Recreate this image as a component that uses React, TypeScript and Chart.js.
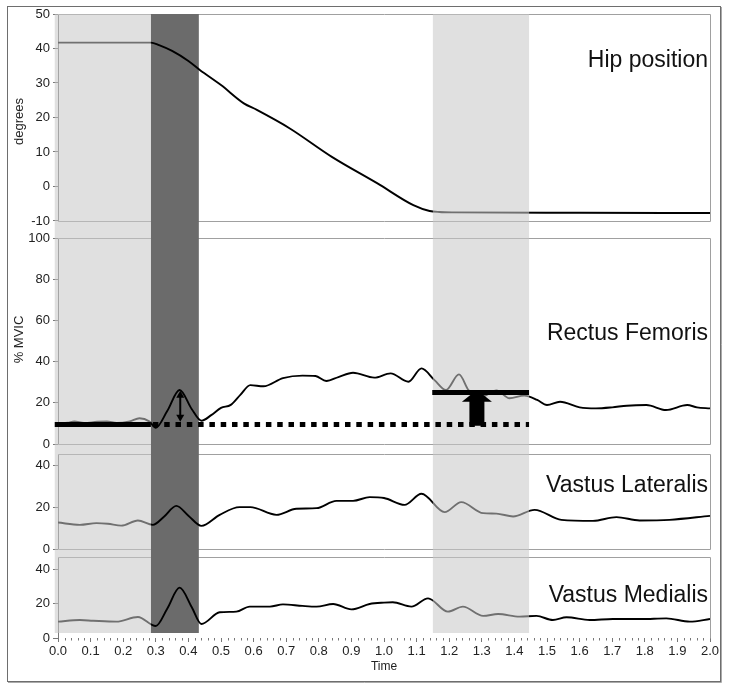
import React, { useEffect, useRef } from 'react';
import { Chart, registerables } from 'chart.js';

Chart.register(...registerables);

// ---------- tick labels ----------
const xTickLabels = ['0.0','0.1','0.2','0.3','0.4','0.5','0.6','0.7','0.8','0.9','1.0','1.1','1.2','1.3','1.4','1.5','1.6','1.7','1.8','1.9','2.0'];
const hipTicks = [-10, 0, 10, 20, 30, 40, 50];
const rfTicks = [0, 20, 40, 60, 80, 100];
const vlTicks = [0, 20, 40];
const vmTicks = [0, 20, 40];

// ---------- series ----------
const hipTime = [0, 0.285, 0.31, 0.35, 0.40, 0.435, 0.50, 0.57, 0.61, 0.71, 0.84, 0.98, 1.09, 1.14, 1.17, 1.21, 1.6, 2.0];
const hipDeg = [41.7, 41.7, 41.0, 39.3, 36.4, 33.8, 29.4, 24.1, 22.2, 16.9, 8.6, 0.9, -5.4, -7.1, -7.4, -7.5, -7.6, -7.7];

const rfTime = [0, 0.03, 0.05, 0.08, 0.12, 0.15, 0.18, 0.22, 0.25, 0.28, 0.30, 0.335, 0.373, 0.41, 0.44, 0.47, 0.50, 0.53, 0.56, 0.59, 0.63, 0.69, 0.75, 0.79, 0.823, 0.86, 0.905, 0.97, 1.02, 1.075, 1.115, 1.155, 1.19, 1.23, 1.26, 1.30, 1.345, 1.385, 1.43, 1.47, 1.50, 1.54, 1.60, 1.65, 1.70, 1.745, 1.805, 1.865, 1.93, 1.96, 2.0];
const rfVal = [10, 10.3, 11, 10.2, 10.8, 11, 10.2, 11, 12.5, 11, 7.9, 16, 26.2, 17, 11.3, 14, 17.5, 19, 24, 28.6, 28, 32, 33.2, 33, 30.6, 32.5, 34.6, 32.2, 34.3, 30.2, 36.7, 31, 26.2, 33.8, 26, 23, 26, 22.2, 23.5, 21.4, 18.9, 20.5, 17.8, 17.3, 17.8, 18.6, 18.9, 16.5, 18.9, 17.8, 17.3];

const vlTime = [0, 0.067, 0.118, 0.153, 0.194, 0.245, 0.291, 0.325, 0.363, 0.40, 0.44, 0.496, 0.557, 0.59, 0.67, 0.731, 0.793, 0.854, 0.905, 0.956, 1.0, 1.063, 1.115, 1.186, 1.237, 1.304, 1.345, 1.396, 1.462, 1.544, 1.641, 1.713, 1.784, 1.876, 2.0];
const vlVal = [12.7, 11.6, 12.4, 12.1, 11.2, 13.7, 11.6, 15.5, 20.7, 16, 11.1, 16.4, 20.1, 20.1, 16.4, 19.3, 19.6, 23.1, 23.1, 24.9, 24.5, 21.2, 26.5, 17.7, 22.5, 17.2, 17.0, 15.6, 18.8, 14.0, 13.5, 15.3, 13.7, 14.0, 15.9];

const vmTime = [0, 0.067, 0.108, 0.179, 0.245, 0.30, 0.335, 0.373, 0.41, 0.44, 0.496, 0.547, 0.588, 0.65, 0.69, 0.75, 0.793, 0.844, 0.90, 0.956, 1.0, 1.027, 1.084, 1.135, 1.196, 1.242, 1.304, 1.35, 1.416, 1.468, 1.518, 1.56, 1.631, 1.702, 1.79, 1.866, 1.938, 2.0];
const vmVal = [9.5, 10.4, 10, 9.5, 12.2, 7, 17, 29.2, 18, 8.1, 14.9, 15.3, 18.2, 18.2, 19.5, 18.6, 18.2, 19.7, 16.6, 19.7, 20.5, 20.7, 18.2, 23.0, 15.3, 18.2, 12.8, 13.9, 12.4, 12.8, 10.4, 12, 10.4, 11.0, 11, 11.4, 9.5, 11];

// ---------- shaded phases (time) ----------
const lightBands = [[-0.01, 0.285], [1.15, 1.445]];
const darkBands = [[0.285, 0.432]];

// ---------- annotations on Rectus Femoris (time, %MVIC) ----------
const rfBaseline = 9.5;
const baselineSolid = [-0.01, 0.285];
const baselineDotted = [0.285, 1.445];
const peakArrowX = 0.375;
const peakArrowRange = [10.8, 25.9];
const plateauLevel = 25;
const plateauRange = [1.148, 1.445];
const blockArrowX = 1.285;
const blockArrowRange = [8.9, 24.4];

// ---------- panel layout ----------
const panels = [
  { id: 'y1', title: 'Hip position', axisTitle: 'degrees', ticks: hipTicks, min: -12.32, max: 50, frameMin: -10, frameMax: 50, weight: 215, titleAt: 34.6, bottomLine: true },
  { id: 'y2', title: 'Rectus Femoris', axisTitle: '% MVIC', ticks: rfTicks, min: -2.91, max: 104.37, frameMin: 0, frameMax: 100, weight: 221, titleAt: 50.5, bottomLine: true },
  { id: 'y3', title: 'Vastus Lateralis', axisTitle: '', ticks: vlTicks, min: -1.92, max: 47.53, frameMin: 0, frameMax: 45.6, weight: 103, titleAt: 27.5, bottomLine: true },
  { id: 'y4', title: 'Vastus Medialis', axisTitle: '', ticks: vmTicks, min: 0, max: 49.28, frameMin: 0, frameMax: 47.1, weight: 85, titleAt: 21.0, bottomLine: false },
];
const shadeTopValue = 50; // on y1
const shadeBottomValue = 2.9; // on y4

const FONT = '"Liberation Sans", Arial, sans-serif';

const panelPlugin = {
  id: 'panelDecor',
  beforeDatasetsDraw(chart: any) {
    const ctx = chart.ctx;
    const xs = chart.scales.x;
    const { left, right } = chart.chartArea;
    ctx.save();
    // frames
    panels.forEach((p) => {
      const s = chart.scales[p.id];
      const t = Math.round(s.getPixelForValue(p.frameMax)) + 0.5;
      const b = Math.round(s.getPixelForValue(p.frameMin)) + 0.5;
      const l = Math.round(left) + 0.5;
      const r = Math.round(right) + 0.5;
      ctx.lineWidth = 1;
      ctx.strokeStyle = '#a0a0a0';
      ctx.beginPath();
      ctx.moveTo(l, t);
      ctx.lineTo(r, t);
      ctx.lineTo(r, b);
      if (p.bottomLine) ctx.lineTo(l, b);
      ctx.stroke();
      ctx.strokeStyle = '#7a7a7a';
      ctx.beginPath();
      ctx.moveTo(l, t);
      ctx.lineTo(l, b);
      ctx.stroke();
    });
    // dark band
    const yTop = chart.scales.y1.getPixelForValue(shadeTopValue);
    const yBot = chart.scales.y4.getPixelForValue(shadeBottomValue);
    ctx.fillStyle = '#6b6b6b';
    darkBands.forEach(([a, b]) => {
      const xa = xs.getPixelForValue(a);
      const xb = xs.getPixelForValue(b);
      ctx.fillRect(xa, yTop, xb - xa, yBot - yTop);
    });
    ctx.restore();
  },
  afterDatasetsDraw(chart: any) {
    const ctx = chart.ctx;
    const xs = chart.scales.x;
    const ys = chart.scales.y2;
    const { right, bottom } = chart.chartArea;
    ctx.save();
    // light bands (translucent overlay)
    const yTop = chart.scales.y1.getPixelForValue(shadeTopValue);
    const yBot = chart.scales.y4.getPixelForValue(shadeBottomValue);
    ctx.fillStyle = 'rgba(200,200,200,0.56)';
    lightBands.forEach(([a, b]) => {
      const xa = xs.getPixelForValue(a);
      const xb = xs.getPixelForValue(b);
      ctx.fillRect(xa, yTop, xb - xa, yBot - yTop);
    });

    // baseline: solid thick
    const yb = ys.getPixelForValue(rfBaseline);
    ctx.strokeStyle = '#000';
    ctx.lineCap = 'butt';
    ctx.lineWidth = 5;
    ctx.beginPath();
    ctx.moveTo(xs.getPixelForValue(baselineSolid[0]), yb);
    ctx.lineTo(xs.getPixelForValue(baselineSolid[1]), yb);
    ctx.stroke();
    // baseline: dotted
    ctx.setLineDash([5.5, 5.8]);
    ctx.beginPath();
    ctx.moveTo(xs.getPixelForValue(baselineDotted[0]) + 2, yb);
    ctx.lineTo(xs.getPixelForValue(baselineDotted[1]), yb);
    ctx.stroke();
    ctx.setLineDash([]);

    // plateau bar
    const yp = ys.getPixelForValue(plateauLevel);
    ctx.beginPath();
    ctx.moveTo(xs.getPixelForValue(plateauRange[0]), yp);
    ctx.lineTo(xs.getPixelForValue(plateauRange[1]), yp);
    ctx.stroke();

    // double-headed arrow at peak
    const ax = xs.getPixelForValue(peakArrowX);
    const a0 = ys.getPixelForValue(peakArrowRange[0]);
    const a1 = ys.getPixelForValue(peakArrowRange[1]);
    ctx.lineWidth = 2;
    ctx.beginPath();
    ctx.moveTo(ax, a0 - 5);
    ctx.lineTo(ax, a1 + 5);
    ctx.stroke();
    ctx.fillStyle = '#000';
    ctx.beginPath();
    ctx.moveTo(ax, a1);
    ctx.lineTo(ax - 4, a1 + 7);
    ctx.lineTo(ax + 4, a1 + 7);
    ctx.closePath();
    ctx.fill();
    ctx.beginPath();
    ctx.moveTo(ax, a0);
    ctx.lineTo(ax - 4, a0 - 7);
    ctx.lineTo(ax + 4, a0 - 7);
    ctx.closePath();
    ctx.fill();

    // block arrow
    const bx = xs.getPixelForValue(blockArrowX);
    const bBase = ys.getPixelForValue(blockArrowRange[0]);
    const bTip = ys.getPixelForValue(blockArrowRange[1]);
    const headH = 8;
    ctx.beginPath();
    ctx.moveTo(bx - 7.5, bBase);
    ctx.lineTo(bx - 7.5, bTip + headH);
    ctx.lineTo(bx - 15, bTip + headH);
    ctx.lineTo(bx - 5, bTip);
    ctx.lineTo(bx + 5, bTip);
    ctx.lineTo(bx + 15, bTip + headH);
    ctx.lineTo(bx + 7.5, bTip + headH);
    ctx.lineTo(bx + 7.5, bBase);
    ctx.closePath();
    ctx.fill();

    // panel titles
    ctx.font = `23px ${FONT}`;
    ctx.fillStyle = '#111';
    ctx.textAlign = 'right';
    ctx.textBaseline = 'alphabetic';
    panels.forEach((p) => {
      const s = chart.scales[p.id];
      ctx.fillText(p.title, right - 2, s.getPixelForValue(p.titleAt));
    });

    // minor x ticks
    ctx.strokeStyle = '#777';
    ctx.lineWidth = 1;
    ctx.beginPath();
    for (let i = 0; i <= 100; i++) {
      if (i % 5 === 0) continue;
      const px = Math.round(xs.getPixelForValue(i * 0.02)) + 0.5;
      ctx.moveTo(px, bottom);
      ctx.lineTo(px, bottom + 2.5);
    }
    ctx.stroke();

    // outer frame
    ctx.strokeStyle = '#6e6e6e';
    ctx.lineWidth = 1;
    ctx.strokeRect(7.5, 6.5, 713, 675);
    ctx.strokeStyle = '#aaa';
    ctx.beginPath();
    ctx.moveTo(8, 682.5);
    ctx.lineTo(721.5, 682.5);
    ctx.lineTo(721.5, 7);
    ctx.stroke();
    ctx.restore();
  },
};

function series(t: number[], v: number[], axis: string) {
  return {
    data: t.map((x, i) => ({ x, y: v[i] })),
    yAxisID: axis,
    xAxisID: 'x',
    borderColor: '#000',
    borderWidth: 1.9,
    pointRadius: 0,
    fill: false,
    cubicInterpolationMode: 'monotone' as const,
  };
}

export default function App() {
  const ref = useRef<HTMLCanvasElement | null>(null);
  useEffect(() => {
    if (!ref.current) return;
    Chart.defaults.font.family = FONT;
    const scales: any = {
      x: {
        type: 'linear',
        position: 'bottom',
        min: 0,
        max: 2,
        afterBuildTicks: (s: any) => {
          s.ticks = xTickLabels.map((l) => ({ value: parseFloat(l) }));
        },
        afterFit: (s: any) => {
          s.height = 40;
        },
        ticks: {
          callback: (_v: any, i: number) => xTickLabels[i],
          font: { size: 13 },
          color: '#222',
          padding: 2,
          maxRotation: 0,
          autoSkip: false,
        },
        grid: { drawOnChartArea: false, drawTicks: true, tickLength: 4, color: '#777' },
        border: { display: false },
        title: { display: true, text: 'Time', font: { size: 12 }, color: '#222', padding: { top: 2, bottom: 4 } },
      },
    };
    panels.forEach((p, i) => {
      scales[p.id] = {
        type: 'linear',
        position: 'left',
        stack: 'panels',
        stackWeight: p.weight,
        weight: panels.length - i,
        min: p.min,
        max: p.max,
        afterBuildTicks: (s: any) => {
          s.ticks = p.ticks.map((v) => ({ value: v }));
        },
        afterFit: (s: any) => {
          s.width = 50;
        },
        ticks: { font: { size: 13 }, color: '#222', padding: 3, autoSkip: false },
        grid: { drawOnChartArea: false, drawTicks: true, tickLength: 5, color: '#777' },
        border: { display: false },
        title: { display: !!p.axisTitle, text: p.axisTitle, font: { size: 13 }, color: '#222', padding: 4 },
      };
    });
    const chart = new Chart(ref.current, {
      type: 'line',
      data: {
        datasets: [
          series(hipTime, hipDeg, 'y1'),
          series(rfTime, rfVal, 'y2'),
          series(vlTime, vlVal, 'y3'),
          series(vmTime, vmVal, 'y4'),
        ] as any,
      },
      options: {
        animation: false,
        responsive: true,
        maintainAspectRatio: false,
        events: [],
        layout: { padding: { left: 8, top: 14, right: 19, bottom: 11 } },
        plugins: { legend: { display: false }, tooltip: { enabled: false }, title: { display: false } },
        scales,
      },
      plugins: [panelPlugin],
    });
    return () => chart.destroy();
  }, []);
  return (
    <div style={{ position: 'absolute', left: 0, top: 0, width: 729, height: 689, background: '#fff' }}>
      <canvas ref={ref} />
    </div>
  );
}
